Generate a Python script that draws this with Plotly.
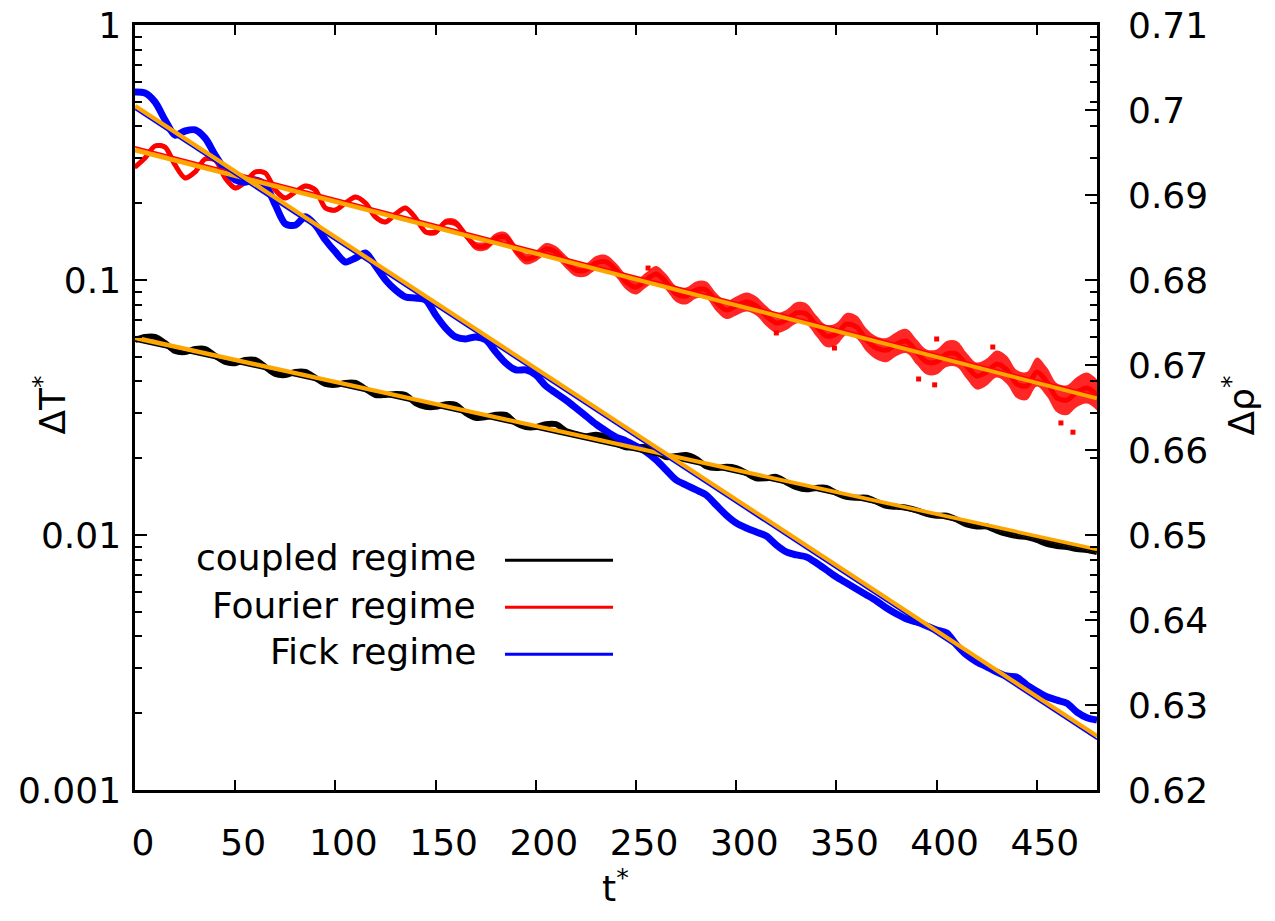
import plotly.graph_objects as go

# ---------------- data ----------------
time = list(range(0, 481, 5))

blue = [0.546, 0.541, 0.499, 0.424, 0.370, 0.384, 0.388, 0.360, 0.309, 0.270,
        0.247, 0.242, 0.247, 0.236, 0.197, 0.166, 0.164, 0.177, 0.164, 0.1435,
        0.1288, 0.1177, 0.122, 0.1276, 0.1135, 0.100, 0.0914, 0.0858, 0.0850, 0.0835,
        0.0729, 0.0648, 0.0598, 0.0587, 0.0598, 0.0582, 0.0522, 0.0472, 0.0444, 0.0444,
        0.0424, 0.0384, 0.0360, 0.0338, 0.0315, 0.0293, 0.0272, 0.0256, 0.0242, 0.0234,
        0.0223, 0.0212, 0.0197, 0.0180, 0.01643, 0.01570, 0.01502, 0.01435, 0.01311, 0.01197,
        0.01114, 0.01065, 0.01027, 0.00991, 0.00914, 0.00858, 0.00835, 0.00820, 0.00777, 0.00729,
        0.00684, 0.00648, 0.00614, 0.00582, 0.00551, 0.00517, 0.00490, 0.00468, 0.00456, 0.00440,
        0.00424, 0.00413, 0.00370, 0.00338, 0.00318, 0.00304, 0.00290, 0.00280, 0.00277, 0.00258,
        0.00244, 0.00232, 0.00225, 0.00219, 0.00202, 0.00192, 0.00188]

red = [0.2773, 0.3009, 0.3353, 0.3322, 0.2825, 0.2512, 0.2652, 0.2982, 0.2955, 0.2512,
       0.2295, 0.2423, 0.2652, 0.2628, 0.2254, 0.2097, 0.2214, 0.2337, 0.2254, 0.1916,
       0.1882, 0.2004, 0.2116, 0.2004, 0.1766, 0.1688, 0.1815, 0.1916, 0.1750, 0.1543,
       0.1543, 0.1688, 0.1673, 0.1501, 0.1359, 0.1359, 0.1461, 0.1474, 0.1311, 0.1209,
       0.1242, 0.1323, 0.1288, 0.1177, 0.1094, 0.1094, 0.1166, 0.1177, 0.1094, 0.0982,
       0.0939, 0.1000, 0.1056, 0.0982, 0.0882, 0.0866, 0.0914, 0.0914, 0.0820, 0.0763,
       0.0791, 0.0820, 0.0791, 0.0722, 0.0678, 0.0697, 0.0743, 0.0736, 0.0660, 0.0603,
       0.0614, 0.0672, 0.0654, 0.0582, 0.0541, 0.0531, 0.0561, 0.0576, 0.0522, 0.0477,
       0.0477, 0.0513, 0.0513, 0.0460, 0.0420, 0.0436, 0.0468, 0.0444, 0.0391, 0.0384,
       0.0436, 0.0398, 0.0345, 0.0338, 0.0364, 0.0377, 0.0354]

# multiplicative half-width of the noisy red scatter band
red_spread = ([1.02] * 30 +
              [1.03, 1.03, 1.035, 1.035, 1.04, 1.04, 1.045, 1.045, 1.05, 1.05,
               1.05, 1.055, 1.055, 1.06, 1.06, 1.06, 1.065, 1.065, 1.065, 1.07,
               1.07, 1.07, 1.075, 1.075, 1.075, 1.08, 1.08, 1.08, 1.085, 1.085,
               1.09, 1.09, 1.09, 1.095, 1.095, 1.095, 1.10, 1.10, 1.10, 1.105,
               1.105, 1.105, 1.11, 1.11, 1.11, 1.115, 1.115, 1.115, 1.12, 1.12,
               1.12, 1.125, 1.125, 1.125, 1.13, 1.13, 1.13, 1.135, 1.135, 1.135,
               1.14, 1.14, 1.14, 1.145, 1.145, 1.15, 1.15])

red_out_t = [256, 320, 349, 391, 399, 400, 428, 462, 468]
red_out_v = [0.1114, 0.0620, 0.0541, 0.0409, 0.0388, 0.0587, 0.0546, 0.0275, 0.0253]

black = [0.0582, 0.0598, 0.0598, 0.0566, 0.0527, 0.0522, 0.0536, 0.0536, 0.0504, 0.0477,
         0.0472, 0.0486, 0.0486, 0.0456, 0.0428, 0.0424, 0.0436, 0.0436, 0.0413, 0.0391,
         0.0388, 0.0395, 0.0395, 0.0374, 0.0354, 0.0354, 0.0357, 0.0354, 0.0329, 0.0318,
         0.0318, 0.0326, 0.0324, 0.0301, 0.0288, 0.0290, 0.0296, 0.0296, 0.0275, 0.0265,
         0.0265, 0.0272, 0.0272, 0.0256, 0.0249, 0.0244, 0.0247, 0.0242, 0.0229, 0.0221,
         0.0221, 0.0221, 0.0212, 0.0202, 0.0204, 0.0206, 0.0199, 0.0186, 0.0183, 0.0185,
         0.0183, 0.0175, 0.0167, 0.0167, 0.0169, 0.0161, 0.0154, 0.0151, 0.0153, 0.0153,
         0.0146, 0.0141, 0.0140, 0.0140, 0.0135, 0.0130, 0.0129, 0.0128, 0.0125, 0.0121,
         0.0119, 0.0119, 0.0115, 0.0110, 0.0108, 0.0108, 0.0104, 0.0101, 0.00991, 0.00982,
         0.00956, 0.00922, 0.00906, 0.00897, 0.00881, 0.00873, 0.00858]

# exponential fits (end points)
fit_t = [0, 480]
blue_fit = [0.480, 0.00162]
blue_fit_thin = [0.467, 0.00158]
red_fit = [0.324, 0.0345]
red_fit_thin = [0.333, 0.0352]
black_fit = [0.0592, 0.00873]
black_fit_thin = [0.0577, 0.00858]

legend_labels = ["coupled regime", "Fourier regime", "Fick regime"]
legend_colors = ["#000000", "#ff0000", "#0000ff"]

ytick_vals = [0.001, 0.01, 0.1, 1]
ytick_text = ["0.001", "0.01", "0.1", "1"]
ylog_minor = [m * 10.0 ** e for e in (-3, -2, -1) for m in range(2, 10)]

FONT = "DejaVu Sans"
ORANGE = "#ffa500"

# ---------------- figure ----------------
fig = go.Figure()

# red scatter band
red_lo = [v / s for v, s in zip(red, red_spread)]
red_hi = [v * s for v, s in zip(red, red_spread)]
fig.add_trace(go.Scatter(x=time, y=red_lo, mode="lines", line=dict(color="rgba(255,0,0,0)", width=0, shape="spline"),
                         showlegend=False, hoverinfo="skip"))
fig.add_trace(go.Scatter(x=time, y=red_hi, mode="lines", fill="tonexty", fillcolor="rgba(255,0,0,0.85)",
                         line=dict(color="rgba(255,0,0,0)", width=0, shape="spline"),
                         showlegend=False, hoverinfo="skip"))
fig.add_trace(go.Scatter(x=time, y=red, mode="lines", line=dict(color="#ff0000", width=5, shape="spline", smoothing=0.8),
                         name="Fourier regime", showlegend=False))
fig.add_trace(go.Scatter(x=red_out_t, y=red_out_v, mode="markers",
                         marker=dict(color="#ff0000", size=5, symbol="square"), showlegend=False))

fig.add_trace(go.Scatter(x=time, y=black, mode="lines", line=dict(color="#000000", width=6, shape="spline", smoothing=0.8),
                         name="coupled regime", showlegend=False))
fig.add_trace(go.Scatter(x=time, y=blue, mode="lines", line=dict(color="#0000ff", width=7, shape="spline", smoothing=0.8),
                         name="Fick regime", showlegend=False))

for fit, thin, col in [(black_fit, black_fit_thin, "#000000"),
                       (red_fit, red_fit_thin, "#ff0000"),
                       (blue_fit, blue_fit_thin, "#0000ff")]:
    fig.add_trace(go.Scatter(x=fit_t, y=fit, mode="lines", line=dict(color=ORANGE, width=5),
                             showlegend=False, hoverinfo="skip"))
    fig.add_trace(go.Scatter(x=fit_t, y=thin, mode="lines", line=dict(color=col, width=1.5),
                             showlegend=False, hoverinfo="skip"))

# invisible trace to attach the right axis
fig.add_trace(go.Scatter(x=[None], y=[None], yaxis="y2", showlegend=False, hoverinfo="skip"))

tickfont = dict(family=FONT, size=36, color="black")

# figure is 8px smaller than the window on each side to allow for the page body margin
fig.update_layout(
    width=1259, height=905,
    margin=dict(l=127, r=170, t=17, b=123),
    paper_bgcolor="white", plot_bgcolor="white",
    showlegend=False,
    font=dict(family=FONT, size=36, color="black"),
    xaxis=dict(range=[0, 480], tick0=0, dtick=50, ticks="inside", ticklen=10, tickwidth=2,
               tickcolor="black", showline=True, linecolor="black", linewidth=2.5, mirror="ticks",
               showgrid=False, zeroline=False, tickfont=tickfont, ticklabelshift=8,
               ticklabelstandoff=19, automargin=False, ticklabeloverflow="allow"),
    yaxis=dict(type="log", range=[-3, 0], tickvals=ytick_vals, ticktext=ytick_text,
               ticks="inside", ticklen=12, tickwidth=2, tickcolor="black",
               minor=dict(ticks="inside", ticklen=7, tickwidth=1.5, tickcolor="black",
                          tickvals=ylog_minor, showgrid=False),
               showline=True, linecolor="black", linewidth=2.5, mirror="ticks",
               showgrid=False, zeroline=False, tickfont=tickfont, ticklabelstandoff=4,
               automargin=False, ticklabeloverflow="allow"),
    yaxis2=dict(overlaying="y", side="right", range=[0.62, 0.71], tick0=0.62, dtick=0.01,
                ticks="inside", ticklen=12, tickwidth=2, tickcolor="black", showline=False,
                showgrid=False, zeroline=False, tickfont=tickfont, ticklabelstandoff=30,
                automargin=False, ticklabeloverflow="allow"),
)

# axis titles
fig.add_annotation(text="ΔT<sup>*</sup>", xref="paper", yref="paper", x=-0.088, y=0.503,
                   xanchor="center", yanchor="middle",
                   textangle=-90, showarrow=False, font=dict(family=FONT, size=36))
fig.add_annotation(text="t<sup>*</sup>", xref="paper", yref="paper", x=0.499, y=-0.126,
                   xanchor="center", yanchor="middle",
                   showarrow=False, font=dict(family=FONT, size=36))
fig.add_annotation(text="Δρ<sup>*</sup>", xref="paper", yref="paper", x=1.148, y=0.503,
                   xanchor="center", yanchor="middle",
                   textangle=-90, showarrow=False, font=dict(family=FONT, size=36))

# legend (text left, sample line right)
leg_y = [0.3033, 0.2418, 0.1804]
for lab, col, yy in zip(legend_labels, legend_colors, leg_y):
    fig.add_annotation(text=lab, xref="paper", yref="paper", x=0.3565, y=yy, xanchor="right",
                       yanchor="middle", showarrow=False, font=dict(family=FONT, size=36))
    fig.add_shape(type="line", xref="paper", yref="paper", x0=0.3846, x1=0.4969, y0=yy - 0.003,
                  y1=yy - 0.003, line=dict(color=col, width=3))

fig.write_html("out.html")
